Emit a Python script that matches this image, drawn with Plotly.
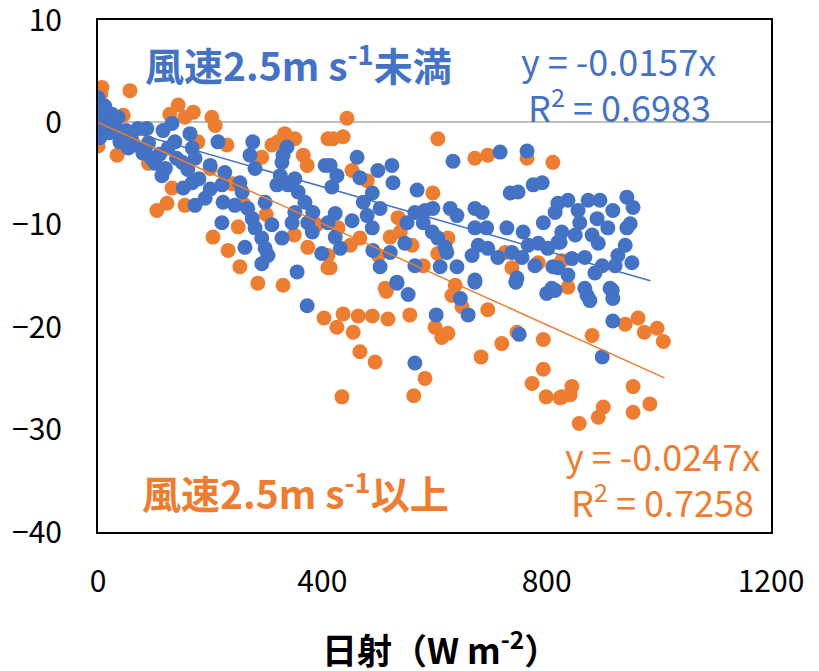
import plotly.graph_objects as go

# Wind speed < 2.5 m/s : solar radiation (W m-2) vs value
blue_x = [0, 2, 0, 3, 1, 0, 3, 5, 8, 10, 12, 18, 20, 25, 30, 36, 39, 45, 50, 54, 60, 65, 71, 80, 84, 87, 90, 95,
          102, 110, 114, 116, 120, 125, 132, 137, 140, 150, 152, 160, 164, 168, 168, 173, 173, 180, 191, 200, 200,
          214, 221, 226, 223, 221, 244, 253, 257, 271, 276, 280, 267, 275, 280, 262, 292, 298, 303, 292, 298, 310,
          319, 325, 328, 337, 330, 339, 351, 357, 369, 351, 346, 328, 355, 374, 382, 399, 405, 410, 383,
          462, 414, 426, 417, 467, 499, 524, 526, 489, 473, 503, 423, 453, 480, 489, 423, 432, 490, 521, 547, 551,
          565, 569, 580, 583, 597, 596, 606, 619, 622, 628, 640, 633, 672, 685, 672, 693, 717, 765, 735, 749, 776,
          792, 729, 758, 794, 815, 820, 667, 678, 695, 713, 738, 756, 767, 785, 802, 820, 779, 747, 672, 610, 640,
          565, 503, 533, 811, 809,
          838, 874, 895, 943, 954, 918, 856, 859, 890, 909, 949, 943, 827, 881, 851, 892, 824, 940, 927, 952, 922,
          899, 886, 845, 868, 820, 838, 868, 913,
          373, 533, 553, 646, 660, 672, 745, 800, 811, 603, 565, 751, 815, 872, 877, 917, 918, 918, 899]
blue_y = [2.4, 1.8, 1.4, 0.9, 0.2, -0.3, -1.5, 1.2, 0.5, -0.6, 1.6, 0.4, -1.0, 0.8, -0.4, 0.5, -1.9, -1.3, -0.8,
          -2.5, -1.7, -2.2, -0.6, -3.0, -2.7, -0.6, -2.0, -3.5,
          -4.0, -3.1, -5.2, -0.8, -4.5, -2.5, -0.1, -1.9, -3.5, -3.9, -6.4, -4.6, -1.1, -2.5, -5.9, -3.5, -8.1, -5.5,
          -7.4, -4.2, -6.5,
          -1.9, -6.1, -4.9, -7.8, -9.8, -8.1, -5.9, -6.8, -3.2, -1.9, -4.5, -8.4, -9.4, -10.3, -12.2, -11.3, -12.3,
          -13.0, -13.8, -7.8, -10.0,
          -6.1, -5.2, -3.9, -2.4, -3.2, -6.1, -5.5, -6.8, -7.8, -8.8, -9.8, -11.3, -14.6, -9.8, -10.7, -12.8, -4.2,
          -9.8, -8.8,
          -3.4, -4.2, -5.2, -6.3, -5.4, -4.7, -4.2, -5.9, -6.9, -7.8, -8.4, -8.9, -9.6, -9.1, -10.3, -11.2, -12.3,
          -12.5, -12.7, -11.8, -9.8,
          -8.8, -6.6, -9.8, -8.6, -8.4, -10.7, -11.3, -12.2, -12.7, -8.4, -9.1, -3.8, -8.4, -8.8, -10.3, -10.3, -2.9,
          -2.8, -6.9, -6.8, -6.1,
          -5.9, -10.3, -10.7, -9.8, -8.8, -7.9, -13.0, -12.0, -12.3, -13.2, -12.7, -13.2, -12.0, -11.8, -12.3, -11.7,
          -14.0, -15.2, -15.4, -14.1, -14.1,
          -14.0, -14.1, -15.6, -14.1, -16.2,
          -7.6, -7.6, -7.6, -7.3, -8.3, -8.6, -8.6, -9.8, -9.4, -10.3, -9.9, -10.3, -10.7, -11.0, -11.0, -11.8, -11.7,
          -12.0, -13.0, -13.7, -14.0,
          -14.0, -14.7, -13.3, -13.2, -14.2, -14.9, -16.2, -16.2,
          -17.9, -15.7, -16.8, -17.2, -18.8, -15.6, -15.6, -16.7, -16.4, -18.8, -23.5, -20.7, -16.4, -16.9, -17.4,
          -16.4, -17.2, -19.4, -22.9]

# Wind speed >= 2.5 m/s
orange_x = [7, 5, 57, 143, 170, 203, 209, 128, 155, 45, 34, 0, 178, 230, 105, 123, 132, 155, 205, 232, 250, 253,
            285, 330, 333, 351, 310, 366, 373, 410, 374, 410, 292, 321,
            444, 419, 437, 606, 672, 695, 765, 811, 453, 480, 597, 535, 521, 539, 624, 606, 414, 410, 428, 512, 637,
            738, 785, 467, 726,
            827, 838,
            403, 514, 631, 649, 695, 437, 464, 489, 517, 556, 426, 455, 601, 613, 624, 467, 494, 583, 563, 435, 683,
            720, 747, 794, 794, 774, 799, 824, 940, 963, 974, 997, 1008, 881, 845, 827, 842, 858, 901, 892, 954,
            954, 984,
            60, 90, 200, 240, 260, 300, 350, 390, 450, 500, 560, 580]
orange_y = [3.4, 2.8, 3.1, 1.7, 1.0, 0.5, -0.3, 0.8, 0.5, 0.7, -3.2, -2.3, -1.9, -2.2, -8.6, -7.9, -6.4, -8.1,
            -11.2, -12.5, -10.2, -14.1, -15.7, -15.9, -1.1, -1.6, -2.2, -3.2, -4.2, -1.6, -12.2, -14.2, -3.4, -1.9,
            0.4, -1.6, -1.4, -1.6, -3.5, -3.2, -3.5, -3.9, -4.7, -5.7, -6.9, -9.3, -11.2, -10.7, -11.3, -12.8, -14.2,
            -13.0, -10.3, -16.2, -15.9, -14.2, -13.7, -11.3, -12.7,
            -13.5, -16.1,
            -19.1, -16.5, -16.9, -18.0, -18.3, -18.7, -18.9, -18.9, -19.2, -18.8, -20.0, -20.5, -20.0, -21.0, -20.6,
            -22.4, -23.4, -25.0, -26.7, -26.8, -22.9, -21.6, -20.5, -21.2, -24.1, -25.5, -26.8, -26.9, -19.7, -19.1,
            -20.5, -20.1, -21.4, -20.8, -25.8, -26.8, -26.6, -29.4, -27.8, -28.8, -25.8, -28.3, -27.5,
            -1.0, -4.0, -4.5, -6.0, -8.0, -9.0, -11.0, -10.0, -12.0, -13.0, -12.0, -14.0]

# Linear fits through the origin
blue_slope = -0.0157
blue_r2 = 0.6983
orange_slope = -0.0247
orange_r2 = 0.7258
blue_fit_x = [0, 985]
orange_fit_x = [0, 1010]

BLUE = "#4472C4"
ORANGE = "#ED7D31"
FONT = "Noto Sans CJK JP"

W, H = 819, 671
ML, MR, MT, MB = 98, 48, 20, 139
PW, PH = W - ML - MR, H - MT - MB

fig = go.Figure()
fig.add_trace(go.Scatter(x=orange_x, y=orange_y, mode="markers",
                         marker=dict(color=ORANGE, size=15, line=dict(width=0)),
                         showlegend=False, hoverinfo="skip"))
fig.add_trace(go.Scatter(x=blue_x, y=blue_y, mode="markers",
                         marker=dict(color=BLUE, size=15, line=dict(width=0)),
                         showlegend=False, hoverinfo="skip"))
fig.add_trace(go.Scatter(x=blue_fit_x, y=[blue_slope * v for v in blue_fit_x], mode="lines",
                         line=dict(color=BLUE, width=1.5), showlegend=False, hoverinfo="skip"))
fig.add_trace(go.Scatter(x=orange_fit_x, y=[orange_slope * v for v in orange_fit_x], mode="lines",
                         line=dict(color=ORANGE, width=1.5), showlegend=False, hoverinfo="skip"))

# text labels placed by pixel centre on the page
labels = [
    dict(px=298, py=62, text="<b>風速2.5m s<sup>-1</sup>未満</b>", color=BLUE, size=39),
    dict(px=618, py=60, text=f"y = {blue_slope}x", color=BLUE, size=36),
    dict(px=619, py=105, text=f"R<sup>2</sup> = {blue_r2}", color=BLUE, size=36),
    dict(px=295, py=490, text="<b>風速2.5m s<sup>-1</sup>以上</b>", color=ORANGE, size=39),
    dict(px=662, py=455, text=f"y = {orange_slope}x", color=ORANGE, size=36),
    dict(px=662, py=500, text=f"R<sup>2</sup> = {orange_r2}", color=ORANGE, size=36),
    dict(px=440, py=647, text="<b>日射（W m<sup>-2</sup>）</b>", color="#000000", size=35),
]
for a in labels:
    fig.add_annotation(x=(a["px"] - ML) / PW, y=(H - MB - a["py"]) / PH, xref="paper", yref="paper",
                       xanchor="center", yanchor="middle", showarrow=False,
                       text=a["text"], font=dict(family=FONT, size=a["size"], color=a["color"]))

fig.update_layout(
    width=W, height=H,
    margin=dict(l=ML, r=MR, t=MT, b=MB, autoexpand=False),
    paper_bgcolor="white", plot_bgcolor="white",
    font=dict(family=FONT, color="#000000"),
)
fig.update_xaxes(range=[0, 1200], tickvals=[0, 400, 800, 1200], showgrid=False, zeroline=False,
                 showline=True, mirror=True, linecolor="black", linewidth=2, automargin=False,
                 ticks="", ticklabelstandoff=22, ticklabeloverflow="allow",
                 tickfont=dict(size=30, family=FONT))
fig.update_yaxes(range=[-40, 10], tickvals=[10, 0, -10, -20, -30, -40], showgrid=False,
                 zeroline=True, zerolinecolor="#BFBFBF", zerolinewidth=2,
                 showline=True, mirror=True, linecolor="black", linewidth=2, automargin=False,
                 ticks="", ticklabelstandoff=28, ticklabeloverflow="allow",
                 tickfont=dict(size=30, family=FONT))

fig.write_html("out.html")
